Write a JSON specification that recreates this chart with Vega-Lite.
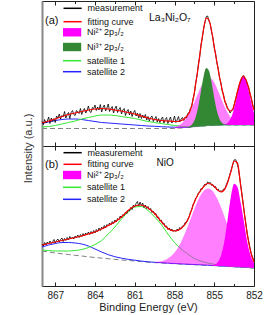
{
"$schema": "https://vega.github.io/schema/vega-lite/v6.json",
"background": "white",
"width": 212,
"height": 285,
"autosize": {"type": "none"},
"padding": {"left": 42, "top": 1, "right": 26, "bottom": 29},
"config": {
 "view": {"stroke": "#222", "strokeWidth": 1},
 "font": "Liberation Sans",
 "axis": {"grid": false, "domain": false},
 "legend": {"labelFont": "Liberation Sans", "labelFontSize": 9, "labelColor": "#111", "padding": 0, "direction": "vertical"}
},
"datasets": {
 "a": [
{"e":868,"bg":17.5,"s1":19,"s2":22.5,"fit":23},
{"e":867.5,"bg":17.5,"s1":19.5,"s2":24,"fit":25},
{"e":867,"bg":17.5,"s1":20.5,"s2":25.5,"fit":27},
{"e":866.5,"bg":17.5,"s1":22,"s2":26.5,"fit":29.5},
{"e":866,"bg":17.5,"s1":23.5,"s2":27,"fit":31.5},
{"e":865.5,"bg":17.5,"s1":25,"s2":27,"fit":33},
{"e":865,"bg":17.5,"s1":27,"s2":26.5,"fit":34.5},
{"e":864.5,"bg":17.5,"s1":28.5,"s2":25.5,"fit":36},
{"e":864,"bg":17.5,"s1":30,"s2":24.5,"fit":37},
{"e":863.5,"bg":17.5,"s1":31,"s2":23.5,"fit":37.5},
{"e":863,"bg":17.5,"s1":31,"s2":23,"fit":37},
{"e":862.5,"bg":17.5,"s1":30.5,"s2":22.5,"fit":36},
{"e":862,"bg":17.5,"s1":29.5,"s2":22,"fit":35},
{"e":861.5,"bg":17.5,"s1":28.5,"s2":21.5,"fit":33.5},
{"e":861,"bg":17.5,"s1":27.5,"s2":21,"fit":32},
{"e":860.5,"bg":17.5,"s1":26,"s2":20.5,"fit":30},
{"e":860,"bg":17.5,"s1":24.5,"s2":20,"fit":28},
{"e":859.5,"bg":17.5,"s1":23.5,"s2":19.7,"fit":26.5},
{"e":859,"bg":17.5,"s1":22.5,"s2":19.3,"fit":25.5},
{"e":858.5,"bg":17.5,"s1":21.5,"s2":19,"fit":25},
{"e":858,"bg":17.5,"s1":20.5,"s2":18.8,"fit":24.5,"pk":18.6},
{"e":857.8,"bg":17.7,"s1":20.2,"s2":18.7,"fit":24.5,"pk":19.7},
{"e":857.6,"bg":17.9,"s1":19.9,"s2":18.7,"fit":25,"pk":21.2},
{"e":857.4,"bg":18.1,"s1":19.6,"s2":18.7,"fit":26,"pk":23.3},
{"e":857.2,"bg":18.3,"s1":19.4,"s2":18.75,"fit":28,"pk":26.3},
{"e":857,"bg":18.5,"s1":19.3,"s2":18.85,"fit":31,"pk":30.1,"g":18.8},
{"e":856.8,"bg":18.8,"s1":19.4,"s2":19.1,"fit":36,"pk":35,"g":20},
{"e":856.6,"bg":19.1,"s1":19.55,"s2":19.4,"fit":46,"pk":40.7,"g":22.9},
{"e":856.4,"bg":19.4,"s1":19.75,"s2":19.7,"fit":62,"pk":47,"g":29.1},
{"e":856.2,"bg":19.6,"s1":19.85,"s2":19.9,"fit":80,"pk":53.3,"g":40},
{"e":856,"bg":19.8,"s1":20,"s2":20.1,"fit":100,"pk":59.2,"g":55},
{"e":855.8,"bg":20,"s1":20.2,"s2":20.3,"fit":117,"pk":64,"g":69.7},
{"e":855.6,"bg":20.2,"s1":20.4,"s2":20.5,"fit":128,"pk":67.1,"g":77.9},
{"e":855.4,"bg":20.4,"s1":20.6,"s2":20.7,"fit":126,"pk":68.4,"g":75.3},
{"e":855.2,"bg":20.5,"s1":20.7,"s2":20.8,"fit":115,"pk":67.2,"g":63.4},
{"e":855,"bg":20.6,"s1":20.8,"s2":20.9,"fit":99,"pk":63.6,"g":48.1},
{"e":854.8,"bg":20.7,"s1":20.9,"s2":21,"fit":84,"pk":58.1,"g":35.2},
{"e":854.6,"bg":20.8,"s1":21,"s2":21.1,"fit":69,"pk":51.6,"g":27.1},
{"e":854.4,"bg":20.9,"s1":21.1,"s2":21.2,"fit":56,"pk":44.9,"g":23.1,"m":21.2},
{"e":854.2,"bg":21,"s1":21.2,"s2":21.3,"fit":45,"pk":38.7,"g":21.6,"m":21.7},
{"e":854,"bg":21,"s1":21.2,"s2":21.3,"fit":38,"pk":33.4,"g":21.2,"m":23.1},
{"e":853.8,"bg":21,"s1":21.2,"s2":21.3,"fit":35,"pk":29.2,"g":21,"m":26.5},
{"e":853.6,"bg":21,"s1":21.2,"s2":21.3,"fit":37,"pk":26.1,"m":33},
{"e":853.4,"bg":21,"s1":21.2,"s2":21.3,"fit":46,"pk":24,"m":43},
{"e":853.2,"bg":21,"s1":21.2,"s2":21.3,"fit":57,"pk":22.7,"m":54.9},
{"e":853,"bg":21,"s1":21.2,"s2":21.3,"fit":66,"pk":21.9,"m":65},
{"e":852.8,"bg":21,"s1":21.2,"s2":21.3,"fit":70,"pk":21.4,"m":69},
{"e":852.6,"bg":21,"s1":21.2,"s2":21.3,"fit":66,"pk":21.2,"m":65},
{"e":852.4,"bg":21,"s1":21.2,"s2":21.3,"fit":58,"pk":21.1,"m":54.9},
{"e":852.2,"bg":21,"s1":21.2,"s2":21.3,"fit":47,"pk":21,"m":43},
{"e":852,"bg":21,"s1":21.2,"s2":21.3,"fit":36,"pk":21,"m":33}
 ],
 "am": [
{"e":868,"y":24.5},{"e":867.9,"y":21.5},{"e":867.8,"y":26.5},{"e":867.7,"y":23},{"e":867.6,"y":25},{"e":867.5,"y":29},{"e":867.4,"y":22.5},{"e":867.3,"y":28},{"e":867.2,"y":24.5},{"e":867.1,"y":27.5},
{"e":867,"y":23.5},{"e":866.9,"y":30},{"e":866.8,"y":28},{"e":866.7,"y":32},{"e":866.6,"y":27},{"e":866.5,"y":30.5},{"e":866.4,"y":29},{"e":866.3,"y":34.5},{"e":866.2,"y":28},{"e":866.1,"y":31.5},
{"e":866,"y":33.5},{"e":865.9,"y":27.5},{"e":865.8,"y":33.5},{"e":865.7,"y":35.5},{"e":865.6,"y":31.5},{"e":865.5,"y":30.5},{"e":865.4,"y":35.5},{"e":865.3,"y":34},{"e":865.2,"y":32.5},{"e":865.1,"y":37.5},
{"e":865,"y":31.5},{"e":864.9,"y":35.5},{"e":864.8,"y":37.5},{"e":864.7,"y":33},{"e":864.6,"y":35.5},{"e":864.5,"y":40},{"e":864.4,"y":34.5},{"e":864.3,"y":33.5},{"e":864.2,"y":38.5},{"e":864.1,"y":37.5},
{"e":864,"y":41},{"e":863.9,"y":35.5},{"e":863.8,"y":39},{"e":863.7,"y":36},{"e":863.6,"y":41.5},{"e":863.5,"y":34},{"e":863.4,"y":38.5},{"e":863.3,"y":41},{"e":863.2,"y":35},{"e":863.1,"y":38},
{"e":863,"y":42},{"e":862.9,"y":34.5},{"e":862.8,"y":37.5},{"e":862.7,"y":39.5},{"e":862.6,"y":33},{"e":862.5,"y":37.5},{"e":862.4,"y":40},{"e":862.3,"y":33.5},{"e":862.2,"y":36.5},{"e":862.1,"y":38.5},
{"e":862,"y":32},{"e":861.9,"y":36},{"e":861.8,"y":37.5},{"e":861.7,"y":30.5},{"e":861.6,"y":34.5},{"e":861.5,"y":36.5},{"e":861.4,"y":31},{"e":861.3,"y":35},{"e":861.2,"y":29.5},{"e":861.1,"y":33.5},
{"e":861,"y":35.5},{"e":860.9,"y":30},{"e":860.8,"y":33},{"e":860.7,"y":28},{"e":860.6,"y":32.5},{"e":860.5,"y":27.5},{"e":860.4,"y":31},{"e":860.3,"y":28},{"e":860.2,"y":31.5},{"e":860.1,"y":26},
{"e":860,"y":29.5},{"e":859.9,"y":25},{"e":859.8,"y":28.5},{"e":859.7,"y":30},{"e":859.6,"y":24.5},{"e":859.5,"y":27},{"e":859.4,"y":29.5},{"e":859.3,"y":24},{"e":859.2,"y":27.5},{"e":859.1,"y":23.5},
{"e":859,"y":27},{"e":858.9,"y":29},{"e":858.8,"y":23},{"e":858.7,"y":26.5},{"e":858.6,"y":28.5},{"e":858.5,"y":22.5},{"e":858.4,"y":26},{"e":858.3,"y":29},{"e":858.2,"y":23},{"e":858.1,"y":25.5},
{"e":858,"y":30},{"e":857.9,"y":23.5},{"e":857.8,"y":26},{"e":857.7,"y":29.5},{"e":857.6,"y":24},{"e":857.5,"y":27},{"e":857.4,"y":28.5},{"e":857.3,"y":25.5},{"e":857.2,"y":29},{"e":857.1,"y":28},
{"e":857,"y":32.5},{"e":856.9,"y":33},{"e":856.8,"y":37.5},{"e":856.7,"y":39.5},{"e":856.6,"y":47.5},{"e":856.5,"y":52.5},{"e":856.4,"y":63.5},{"e":856.3,"y":70},{"e":856.2,"y":81.5},{"e":856.1,"y":89},
{"e":856,"y":101.5},{"e":855.9,"y":108},{"e":855.8,"y":118},{"e":855.7,"y":124},{"e":855.6,"y":129.5},{"e":855.5,"y":130},{"e":855.4,"y":125},{"e":855.3,"y":122},{"e":855.2,"y":114},{"e":855.1,"y":108.5},
{"e":855,"y":98},{"e":854.9,"y":92.5},{"e":854.8,"y":83},{"e":854.7,"y":77.5},{"e":854.6,"y":68},{"e":854.5,"y":63.5},{"e":854.4,"y":55},{"e":854.3,"y":51.5},{"e":854.2,"y":44},{"e":854.1,"y":42.5},
{"e":854,"y":37},{"e":853.9,"y":36.5},{"e":853.8,"y":33},{"e":853.7,"y":35.5},{"e":853.6,"y":36},{"e":853.5,"y":41},{"e":853.4,"y":46},{"e":853.3,"y":51.5},{"e":853.2,"y":56.5},{"e":853.1,"y":61.5},
{"e":853,"y":65},{"e":852.9,"y":68.5},{"e":852.8,"y":70.5},{"e":852.7,"y":67.5},{"e":852.6,"y":66.5},{"e":852.5,"y":61.5},{"e":852.4,"y":58.5},{"e":852.3,"y":51.5},{"e":852.2,"y":47.5},{"e":852.1,"y":40.5},
{"e":852,"y":36.5}
 ],
 "b": [
{"e":868,"bg":35,"s1":36,"s2":39,"fit":41},
{"e":867.5,"bg":34,"s1":35.5,"s2":41,"fit":42.5},
{"e":867,"bg":33,"s1":35,"s2":42.5,"fit":44},
{"e":866.5,"bg":32.2,"s1":35,"s2":43.5,"fit":45.5},
{"e":866,"bg":31.5,"s1":35,"s2":43.5,"fit":47},
{"e":865.5,"bg":30.7,"s1":35.5,"s2":43,"fit":48.5},
{"e":865,"bg":30,"s1":36.5,"s2":42,"fit":50},
{"e":864.5,"bg":29.2,"s1":38.5,"s2":40,"fit":52},
{"e":864,"bg":28.5,"s1":41.5,"s2":37,"fit":54},
{"e":863.5,"bg":27.9,"s1":45.5,"s2":34,"fit":57},
{"e":863,"bg":27.3,"s1":52,"s2":31.3,"fit":60.5},
{"e":862.5,"bg":26.6,"s1":59,"s2":29.3,"fit":64},
{"e":862,"bg":26,"s1":67,"s2":27.8,"fit":69},
{"e":861.5,"bg":25.5,"s1":74,"s2":26.7,"fit":75.5},
{"e":861,"bg":25,"s1":79,"s2":25.8,"fit":80},
{"e":860.5,"bg":24.4,"s1":79.5,"s2":24.9,"fit":81},
{"e":860,"bg":23.8,"s1":75.5,"s2":24.2,"fit":78},
{"e":859.5,"bg":23.4,"s1":69,"s2":23.7,"fit":72.5,"pk":24},
{"e":859,"bg":23,"s1":61.5,"s2":23.3,"fit":64.5,"pk":24.8},
{"e":858.5,"bg":22.6,"s1":52,"s2":22.9,"fit":57.5,"pk":27.5},
{"e":858,"bg":22.3,"s1":43.5,"s2":22.5,"fit":55,"pk":33.5},
{"e":857.5,"bg":21.9,"s1":37,"s2":22.1,"fit":57.5,"pk":44.1},
{"e":857,"bg":21.6,"s1":32,"s2":21.8,"fit":66,"pk":59.4},
{"e":856.5,"bg":21.3,"s1":27.5,"s2":21.45,"fit":84,"pk":76.9},
{"e":856.25,"bg":21.15,"s1":26,"s2":21.3,"fit":91,"pk":84.9},
{"e":856,"bg":21,"s1":24.8,"s2":21.15,"fit":96,"pk":91.4},
{"e":855.75,"bg":20.8,"s1":23.8,"s2":20.95,"fit":100,"pk":95.8},
{"e":855.5,"bg":20.65,"s1":23,"s2":20.8,"fit":102.5,"pk":97.6},
{"e":855.25,"bg":20.5,"s1":22.3,"s2":20.65,"fit":102,"pk":96.6,"m":20.8},
{"e":855,"bg":20.3,"s1":21.7,"s2":20.45,"fit":99.5,"pk":92.8,"m":21.2},
{"e":854.75,"bg":20.1,"s1":21.2,"s2":20.25,"fit":96,"pk":86.7,"m":23.5},
{"e":854.5,"bg":19.9,"s1":20.8,"s2":20.05,"fit":94,"pk":78.9,"m":29.9},
{"e":854.25,"bg":19.7,"s1":20.4,"s2":19.85,"fit":96,"pk":70,"m":43.7},
{"e":854,"bg":19.5,"s1":20.1,"s2":19.65,"fit":103,"pk":60.8,"m":65.5},
{"e":853.75,"bg":19.3,"s1":19.8,"s2":19.45,"fit":114,"pk":52,"m":88.8},
{"e":853.5,"bg":19.15,"s1":19.6,"s2":19.3,"fit":125,"pk":44.15,"m":102.2},
{"e":853.25,"bg":19,"s1":19.4,"s2":19.15,"fit":123,"pk":37.4,"m":99},
{"e":853,"bg":18.8,"s1":19.1,"s2":18.95,"fit":100,"pk":31.8,"m":82.8},
{"e":852.75,"bg":18.6,"s1":18.9,"s2":18.75,"fit":75,"pk":27.5,"m":63.6},
{"e":852.5,"bg":18.4,"s1":18.7,"s2":18.55,"fit":51,"pk":24.3,"m":43.4},
{"e":852.25,"bg":18.2,"s1":18.4,"s2":18.35,"fit":34,"pk":21.9,"m":30.2},
{"e":852,"bg":18,"s1":18.2,"s2":18.15,"fit":24,"pk":20.3,"m":23}
 ],
 "bm": [
{"e":868,"y":42},{"e":867.9,"y":40},{"e":867.8,"y":43.5},{"e":867.7,"y":41},{"e":867.6,"y":44},{"e":867.5,"y":42},{"e":867.4,"y":45},{"e":867.3,"y":42.5},{"e":867.2,"y":44},{"e":867.1,"y":46.5},
{"e":867,"y":43},{"e":866.9,"y":45.5},{"e":866.8,"y":47},{"e":866.7,"y":44},{"e":866.6,"y":46.5},{"e":866.5,"y":48},{"e":866.4,"y":44.5},{"e":866.3,"y":47.5},{"e":866.2,"y":45.5},{"e":866.1,"y":48.5},
{"e":866,"y":46},{"e":865.9,"y":49.5},{"e":865.8,"y":47},{"e":865.7,"y":49},{"e":865.6,"y":47},{"e":865.5,"y":50},{"e":865.4,"y":48},{"e":865.3,"y":51},{"e":865.2,"y":48.5},{"e":865.1,"y":51.5},
{"e":865,"y":49.5},{"e":864.9,"y":52.5},{"e":864.8,"y":50},{"e":864.7,"y":53},{"e":864.6,"y":51},{"e":864.5,"y":54},{"e":864.4,"y":51.5},{"e":864.3,"y":54.5},{"e":864.2,"y":52.5},{"e":864.1,"y":55.5},
{"e":864,"y":53},{"e":863.9,"y":56.5},{"e":863.8,"y":54.5},{"e":863.7,"y":58},{"e":863.6,"y":55.5},{"e":863.5,"y":59},{"e":863.4,"y":57},{"e":863.3,"y":60.5},{"e":863.2,"y":58},{"e":863.1,"y":61.5},
{"e":863,"y":60},{"e":862.9,"y":63},{"e":862.8,"y":61},{"e":862.7,"y":64.5},{"e":862.6,"y":62.5},{"e":862.5,"y":66},{"e":862.4,"y":64},{"e":862.3,"y":67.5},{"e":862.2,"y":66},{"e":862.1,"y":70},
{"e":862,"y":68},{"e":861.9,"y":71.5},{"e":861.8,"y":70.5},{"e":861.7,"y":74},{"e":861.6,"y":72.5},{"e":861.5,"y":76},{"e":861.4,"y":75},{"e":861.3,"y":78.5},{"e":861.2,"y":76.5},{"e":861.1,"y":81},
{"e":861,"y":79},{"e":860.9,"y":82.5},{"e":860.8,"y":84.5},{"e":860.7,"y":80},{"e":860.6,"y":84},{"e":860.5,"y":80.5},{"e":860.4,"y":83},{"e":860.3,"y":78.5},{"e":860.2,"y":81},{"e":860.1,"y":77.5},
{"e":860,"y":79.5},{"e":859.9,"y":76},{"e":859.8,"y":77.5},{"e":859.7,"y":73.5},{"e":859.6,"y":75},{"e":859.5,"y":71.5},{"e":859.4,"y":72.5},{"e":859.3,"y":68},{"e":859.2,"y":69},{"e":859.1,"y":65},
{"e":859,"y":66},{"e":858.9,"y":62},{"e":858.8,"y":63},{"e":858.7,"y":59},{"e":858.6,"y":60},{"e":858.5,"y":56.5},{"e":858.4,"y":58},{"e":858.3,"y":55.5},{"e":858.2,"y":57},{"e":858.1,"y":54.5},
{"e":858,"y":56},{"e":857.9,"y":54.5},{"e":857.8,"y":57},{"e":857.7,"y":55.5},{"e":857.6,"y":58.5},{"e":857.5,"y":57},{"e":857.4,"y":60},{"e":857.3,"y":60},{"e":857.2,"y":63.5},{"e":857.1,"y":63.5},
{"e":857,"y":67},{"e":856.9,"y":69},{"e":856.8,"y":74},{"e":856.7,"y":76},{"e":856.6,"y":81.5},{"e":856.5,"y":83.5},{"e":856.4,"y":88},{"e":856.3,"y":89},{"e":856.2,"y":93},{"e":856.1,"y":93.5},
{"e":856,"y":97.5},{"e":855.9,"y":97},{"e":855.8,"y":100},{"e":855.7,"y":102},{"e":855.6,"y":101},{"e":855.5,"y":104},{"e":855.4,"y":103},{"e":855.3,"y":103.5},{"e":855.2,"y":100.5},{"e":855.1,"y":101.5},
{"e":855,"y":98.5},{"e":854.9,"y":99.5},{"e":854.8,"y":96},{"e":854.7,"y":97},{"e":854.6,"y":94},{"e":854.5,"y":95.5},{"e":854.4,"y":94},{"e":854.3,"y":97},{"e":854.2,"y":97},{"e":854.1,"y":101},
{"e":854,"y":104},{"e":853.9,"y":108},{"e":853.8,"y":112.5},{"e":853.7,"y":117},{"e":853.6,"y":121.5},{"e":853.5,"y":126},{"e":853.4,"y":126.5},{"e":853.3,"y":124},{"e":853.2,"y":119},{"e":853.1,"y":110},
{"e":853,"y":100.5},{"e":852.9,"y":91},{"e":852.8,"y":81},{"e":852.7,"y":70},{"e":852.6,"y":61},{"e":852.5,"y":51.5},{"e":852.4,"y":45},{"e":852.3,"y":38},{"e":852.2,"y":32},{"e":852.1,"y":28.5},
{"e":852,"y":24.5}
 ],
 "ta": [{"e": 858.35, "y": 128.5, "t": "La₃Ni₂O₇"}],
 "tb": [{"e": 858.7, "y": 123, "t": "NiO"}]
},
"resolve": {"scale": {"y": "independent", "color": "independent", "fill": "independent", "stroke": "independent"}, "axis": {"x": "independent", "y": "independent"}, "legend": {"color": "independent", "fill": "independent", "stroke": "independent"}},
"layer": [
 {"data": {"name": "a"}, "mark": {"type": "line", "stroke": "#808080", "strokeWidth": 1, "strokeDash": [5, 3]},
  "encoding": {
   "x": {"field": "e", "type": "quantitative", "scale": {"domain": [852, 868], "reverse": true, "nice": false, "zero": false},
     "axis": {"orient": "top", "values": [867, 865.5, 864, 862.5, 861, 859.5, 858, 856.5, 855, 853.5, 852], "tickSize": {"expr": "datum.value % 3 === 0 ? -4 : -2.5"}, "tickColor": "#222", "labels": false, "title": null}},
   "y": {"field": "bg", "type": "quantitative", "scale": {"domain": [-140, 145], "nice": false, "zero": false},
     "axis": {"title": "Intensity (a.u.)", "titleX": -14, "titleY": 147, "titleAngle": 270, "titleAlign": "center", "titleBaseline": "middle", "titleFontSize": 11, "titleFontWeight": "normal", "titleColor": "#333", "labels": false, "ticks": false, "domain": true, "domainColor": "#888", "domainWidth": 2}}
  }},
 {"data": {"name": "a"}, "mark": {"type": "line", "strokeWidth": 1, "interpolate": "monotone"},
  "encoding": {
   "x": {"field": "e", "type": "quantitative",
     "axis": {"orient": "bottom", "offset": -140, "values": [867, 865.5, 864, 862.5, 861, 859.5, 858, 856.5, 855, 853.5, 852], "tickSize": {"expr": "datum.value % 3 === 0 ? -4 : -2.5"}, "tickColor": "#222", "labels": false, "title": null, "domain": true, "domainColor": "#222", "domainWidth": 1}},
   "y": {"field": "s2", "type": "quantitative", "scale": {"domain": [-140, 145], "nice": false, "zero": false}, "axis": null},
   "color": {"datum": "satellite 2", "type": "nominal", "scale": {"domain": ["satellite 1", "satellite 2"], "range": ["#35e835", "#2424ff"]},
     "legend": {"orient": "none", "legendX": 21, "legendY": 55.2, "title": null, "symbolType": "M-2.6,0H2.6", "symbolSize": 49, "symbolStrokeWidth": 1.5, "symbolOffset": 4.6, "labelOffset": 10.5, "rowPadding": 1}}
  }},
 {"data": {"name": "a"}, "mark": {"type": "line", "strokeWidth": 1, "interpolate": "monotone"},
  "encoding": {
   "x": {"field": "e", "type": "quantitative", "axis": null},
   "y": {"field": "s1", "type": "quantitative", "scale": {"domain": [-140, 145], "nice": false, "zero": false}, "axis": null},
   "color": {"datum": "satellite 1", "type": "nominal", "scale": {"domain": ["satellite 1", "satellite 2"], "range": ["#35e835", "#2424ff"]}, "legend": null}
  }},
 {"data": {"name": "a"}, "mark": {"type": "area", "interpolate": "monotone"},
  "encoding": {
   "x": {"field": "e", "type": "quantitative", "axis": null},
   "y": {"field": "m", "type": "quantitative", "scale": {"domain": [-140, 145], "nice": false, "zero": false}, "axis": null},
   "y2": {"field": "bg"},
   "fill": {"datum": "Ni²⁺ 2p₃/₂", "type": "nominal", "scale": {"domain": ["Ni²⁺ 2p₃/₂", "Ni³⁺ 2p₃/₂"], "range": ["#ff00ff", "#338833"]},
     "legend": {"orient": "none", "legendX": 21, "legendY": 26.8, "title": null, "symbolType": "M-2.6,-1.2H2.6V1.2H-2.6Z", "symbolSize": 49, "symbolStrokeWidth": 0, "symbolOpacity": 1, "symbolOffset": 4.6, "labelOffset": 10.5, "rowPadding": 4.7}}
  }},
 {"data": {"name": "a"}, "mark": {"type": "area", "interpolate": "monotone", "fillOpacity": 0.5},
  "encoding": {
   "x": {"field": "e", "type": "quantitative", "axis": null},
   "y": {"field": "pk", "type": "quantitative", "scale": {"domain": [-140, 145], "nice": false, "zero": false}, "axis": null},
   "y2": {"field": "bg"},
   "fill": {"datum": "Ni²⁺ 2p₃/₂", "type": "nominal", "scale": {"domain": ["Ni²⁺ 2p₃/₂", "Ni³⁺ 2p₃/₂"], "range": ["#ff00ff", "#338833"]}, "legend": null}
  }},
 {"data": {"name": "a"}, "mark": {"type": "area", "interpolate": "monotone"},
  "encoding": {
   "x": {"field": "e", "type": "quantitative", "axis": null},
   "y": {"field": "g", "type": "quantitative", "scale": {"domain": [-140, 145], "nice": false, "zero": false}, "axis": null},
   "y2": {"field": "bg"},
   "fill": {"datum": "Ni³⁺ 2p₃/₂", "type": "nominal", "scale": {"domain": ["Ni²⁺ 2p₃/₂", "Ni³⁺ 2p₃/₂"], "range": ["#ff00ff", "#338833"]}, "legend": null}
  }},
 {"data": {"name": "am"}, "mark": {"type": "line", "strokeWidth": 0.8},
  "encoding": {
   "x": {"field": "e", "type": "quantitative", "axis": null},
   "y": {"field": "y", "type": "quantitative", "scale": {"domain": [-140, 145], "nice": false, "zero": false}, "axis": null},
   "stroke": {"datum": "measurement", "type": "nominal", "scale": {"domain": ["measurement", "fitting curve"], "range": ["#000000", "#ff0000"]},
     "legend": {"orient": "none", "legendX": 3, "legendY": 2.8, "title": "(a)", "titleOrient": "left", "titleFontSize": 11, "titleFontWeight": "normal", "titleColor": "#111", "titlePadding": 4.5, "titleBaseline": "top", "symbolType": "M-2.6,0H2.6", "symbolSize": 49, "symbolStrokeWidth": 1.5, "symbolOffset": 4.6, "labelOffset": 10.5, "rowPadding": 3.4}}
  }},
 {"data": {"name": "a"}, "mark": {"type": "line", "strokeWidth": 1.2, "interpolate": "monotone"},
  "encoding": {
   "x": {"field": "e", "type": "quantitative", "axis": null},
   "y": {"field": "fit", "type": "quantitative", "scale": {"domain": [-140, 145], "nice": false, "zero": false}, "axis": null},
   "stroke": {"datum": "fitting curve", "type": "nominal", "scale": {"domain": ["measurement", "fitting curve"], "range": ["#000000", "#ff0000"]}, "legend": null}
  }},
 {"data": {"name": "ta"}, "mark": {"type": "text", "fontSize": 10.5, "color": "#111", "align": "center", "baseline": "middle"},
  "encoding": {
   "x": {"field": "e", "type": "quantitative", "axis": null},
   "y": {"field": "y", "type": "quantitative", "scale": {"domain": [-140, 145], "nice": false, "zero": false}, "axis": null},
   "text": {"field": "t"}
  }},
 {"data": {"name": "b"}, "mark": {"type": "line", "stroke": "#808080", "strokeWidth": 1, "strokeDash": [5, 3]},
  "encoding": {
   "x": {"field": "e", "type": "quantitative",
     "axis": {"orient": "bottom", "values": [867, 865.5, 864, 862.5, 861, 859.5, 858, 856.5, 855, 853.5, 852], "tickSize": {"expr": "datum.value % 3 === 0 ? -4 : -2.5"}, "tickColor": "#222", "labelExpr": "datum.value % 3 === 0 ? datum.label : ''", "labelFontSize": 10, "labelColor": "#222", "labelPadding": 8, "labelFlush": false, "labelOverlap": false, "title": "Binding Energy (eV)", "titleFontSize": 11, "titleFontWeight": "normal", "titleColor": "#222", "titlePadding": 0}},
   "y": {"field": "bg", "type": "quantitative", "scale": {"domain": [0, 285], "nice": false, "zero": false}, "axis": null}
  }},
 {"data": {"name": "b"}, "mark": {"type": "line", "strokeWidth": 1, "interpolate": "monotone"},
  "encoding": {
   "x": {"field": "e", "type": "quantitative",
     "axis": {"orient": "top", "offset": -145, "values": [867, 865.5, 864, 862.5, 861, 859.5, 858, 856.5, 855, 853.5, 852], "tickSize": {"expr": "datum.value % 3 === 0 ? -4 : -2.5"}, "tickColor": "#222", "labels": false, "title": null}},
   "y": {"field": "s2", "type": "quantitative", "scale": {"domain": [0, 285], "nice": false, "zero": false}, "axis": null},
   "color": {"datum": "satellite 2", "type": "nominal", "scale": {"domain": ["satellite 1", "satellite 2"], "range": ["#35e835", "#2424ff"]},
     "legend": {"orient": "none", "legendX": 21, "legendY": 181.8, "title": null, "symbolType": "M-2.6,0H2.6", "symbolSize": 49, "symbolStrokeWidth": 1.5, "symbolOffset": 4.6, "labelOffset": 10.5, "rowPadding": 2}}
  }},
 {"data": {"name": "b"}, "mark": {"type": "line", "strokeWidth": 1, "interpolate": "monotone"},
  "encoding": {
   "x": {"field": "e", "type": "quantitative", "axis": null},
   "y": {"field": "s1", "type": "quantitative", "scale": {"domain": [0, 285], "nice": false, "zero": false}, "axis": null},
   "color": {"datum": "satellite 1", "type": "nominal", "scale": {"domain": ["satellite 1", "satellite 2"], "range": ["#35e835", "#2424ff"]}, "legend": null}
  }},
 {"data": {"name": "b"}, "mark": {"type": "area", "interpolate": "monotone"},
  "encoding": {
   "x": {"field": "e", "type": "quantitative", "axis": null},
   "y": {"field": "m", "type": "quantitative", "scale": {"domain": [0, 285], "nice": false, "zero": false}, "axis": null},
   "y2": {"field": "bg"},
   "fill": {"datum": "Ni²⁺ 2p₃/₂", "type": "nominal", "scale": {"domain": ["Ni²⁺ 2p₃/₂"], "range": ["#ff00ff"]},
     "legend": {"orient": "none", "legendX": 21, "legendY": 169.5, "title": null, "symbolType": "M-2.6,-1.2H2.6V1.2H-2.6Z", "symbolSize": 49, "symbolStrokeWidth": 0, "symbolOpacity": 1, "symbolOffset": 4.6, "labelOffset": 10.5}}
  }},
 {"data": {"name": "b"}, "mark": {"type": "area", "interpolate": "monotone", "fillOpacity": 0.5},
  "encoding": {
   "x": {"field": "e", "type": "quantitative", "axis": null},
   "y": {"field": "pk", "type": "quantitative", "scale": {"domain": [0, 285], "nice": false, "zero": false}, "axis": null},
   "y2": {"field": "bg"},
   "fill": {"datum": "Ni²⁺ 2p₃/₂", "type": "nominal", "scale": {"domain": ["Ni²⁺ 2p₃/₂"], "range": ["#ff00ff"]}, "legend": null}
  }},
 {"data": {"name": "bm"}, "mark": {"type": "line", "strokeWidth": 0.8},
  "encoding": {
   "x": {"field": "e", "type": "quantitative", "axis": null},
   "y": {"field": "y", "type": "quantitative", "scale": {"domain": [0, 285], "nice": false, "zero": false}, "axis": null},
   "stroke": {"datum": "measurement", "type": "nominal", "scale": {"domain": ["measurement", "fitting curve"], "range": ["#000000", "#ff0000"]},
     "legend": {"orient": "none", "legendX": 3, "legendY": 147.2, "title": "(b)", "titleOrient": "left", "titleFontSize": 11, "titleFontWeight": "normal", "titleColor": "#111", "titlePadding": 4.5, "titleBaseline": "top", "symbolType": "M-2.6,0H2.6", "symbolSize": 49, "symbolStrokeWidth": 1.5, "symbolOffset": 4.6, "labelOffset": 10.5, "rowPadding": 1.6}}
  }},
 {"data": {"name": "b"}, "mark": {"type": "line", "strokeWidth": 1.2, "interpolate": "monotone"},
  "encoding": {
   "x": {"field": "e", "type": "quantitative", "axis": null},
   "y": {"field": "fit", "type": "quantitative", "scale": {"domain": [0, 285], "nice": false, "zero": false}, "axis": null},
   "stroke": {"datum": "fitting curve", "type": "nominal", "scale": {"domain": ["measurement", "fitting curve"], "range": ["#000000", "#ff0000"]}, "legend": null}
  }},
 {"data": {"name": "tb"}, "mark": {"type": "text", "fontSize": 10, "color": "#111", "align": "center", "baseline": "middle"},
  "encoding": {
   "x": {"field": "e", "type": "quantitative", "axis": null},
   "y": {"field": "y", "type": "quantitative", "scale": {"domain": [0, 285], "nice": false, "zero": false}, "axis": null},
   "text": {"field": "t"}
  }}
]
}
